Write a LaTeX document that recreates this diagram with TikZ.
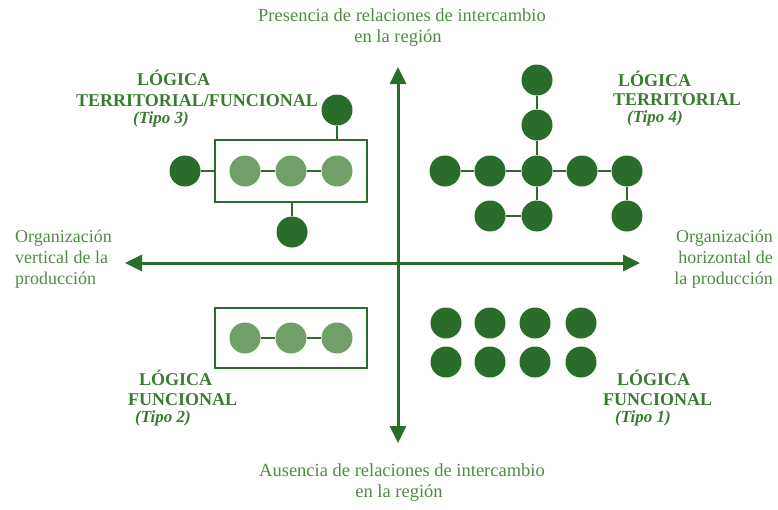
\documentclass[tikz,border=0pt]{standalone}
\usepackage{fontspec}
\setmainfont{Liberation Serif}
\usetikzlibrary{arrows.meta}
\definecolor{dkgreen}{RGB}{42,108,42}
\definecolor{ltgreen}{RGB}{112,160,104}
\definecolor{txtgreen}{RGB}{78,140,68}
\definecolor{ttlgreen}{RGB}{58,122,50}
\begin{document}
\begin{tikzpicture}[x=1pt,y=-1pt,
  dot/.style={circle,fill=dkgreen,inner sep=0pt,minimum size=31pt},
  ldot/.style={circle,fill=ltgreen,inner sep=0pt,minimum size=31pt},
  link/.style={draw=dkgreen,line width=2pt},
  frame/.style={draw=dkgreen,line width=1.5pt,inner sep=0pt,minimum width=152pt},
  axis/.style={draw=dkgreen,line width=3pt,{Triangle[width=16pt,length=17pt]}-{Triangle[width=16pt,length=17pt]}},
  lblw/.style={text=txtgreen,font=\fontsize{18}{21}\selectfont,inner sep=0pt,anchor=base west},
  lble/.style={text=txtgreen,font=\fontsize{18}{21}\selectfont,inner sep=0pt,anchor=base east},
  lblc/.style={text=txtgreen,font=\fontsize{18.5}{21}\selectfont,inner sep=0pt,anchor=base},
  ttl/.style={text=ttlgreen,font=\fontsize{18}{18}\selectfont\bfseries,inner sep=0pt,anchor=base west},
  tipo/.style={text=ttlgreen,font=\fontsize{17}{18}\selectfont\bfseries\itshape,inner sep=0pt,anchor=base west},
]
\useasboundingbox (0,0) rectangle (778,509);

% axes
\coordinate (ytop) at (398,67);
\coordinate (ybot) at (398,443);
\coordinate (xl) at (125,263);
\coordinate (xr) at (640,263);
\draw[axis] (ytop) -- (ybot);
\draw[axis] (xl) -- (xr);

% axis labels
\node[lblc] (pt1) at (402,21) {Presencia de relaciones de intercambio};
\node[lblc] (pt2) at (398,42) {en la región};
\node[lblc] (pb1) at (402,476) {Ausencia de relaciones de intercambio};
\node[lblc] (pb2) at (399,497) {en la región};
\node[lblw] (lv1) at (15,242) {Organización};
\node[lblw] (lv2) at (15,263) {vertical de la};
\node[lblw] (lv3) at (15,284) {producción};
\node[lble] (rh1) at (773,242) {Organización};
\node[lble] (rh2) at (773,263) {horizontal de};
\node[lble] (rh3) at (773,284) {la producción};

% Tipo 3
\node[ttl] (t3a) at (137,85) {LÓGICA};
\node[ttl] (t3b) at (76,106) {TERRITORIAL/FUNCIONAL};
\node[tipo] (t3c) at (133,123) {(Tipo 3)};
\node[frame,minimum height=62pt] (box3) at (291,171) {};
\node[ldot] (c31) at (245,171) {};
\node[ldot] (c32) at (291,171) {};
\node[ldot] (c33) at (337,171) {};
\node[dot] (c3t) at (337,110) {};
\node[dot] (c3l) at (185,171) {};
\node[dot] (c3b) at (292,232) {};
\draw[link] (c31) -- (c32);
\draw[link] (c32) -- (c33);
\draw[link] (c3t) -- (c3t |- box3.north);
\draw[link] (c3l) -- (box3);
\draw[link] (c3b) -- (c3b |- box3.south);

% Tipo 4
\node[ttl] (t4a) at (618,86) {LÓGICA};
\node[ttl] (t4b) at (613,105) {TERRITORIAL};
\node[tipo] (t4c) at (627,122) {(Tipo 4)};
\node[dot] (a1) at (537,80) {};
\node[dot] (a2) at (537,125) {};
\node[dot] (m1) at (445,171) {};
\node[dot] (m2) at (490,171) {};
\node[dot] (m3) at (537,171) {};
\node[dot] (m4) at (582,171) {};
\node[dot] (m5) at (627,171) {};
\node[dot] (b1) at (490,216) {};
\node[dot] (b2) at (537,216) {};
\node[dot] (b3) at (627,216) {};
\draw[link] (a1) -- (a2);
\draw[link] (a2) -- (m3);
\draw[link] (m1) -- (m2);
\draw[link] (m2) -- (m3);
\draw[link] (m3) -- (m4);
\draw[link] (m4) -- (m5);
\draw[link] (m3) -- (b2);
\draw[link] (b1) -- (b2);
\draw[link] (m5) -- (b3);

% Tipo 2
\node[frame,minimum height=60pt] (box2) at (291,338) {};
\node[ldot] (c21) at (245,338) {};
\node[ldot] (c22) at (291,338) {};
\node[ldot] (c23) at (337,338) {};
\draw[link] (c21) -- (c22);
\draw[link] (c22) -- (c23);
\node[ttl] (t2a) at (139,385) {LÓGICA};
\node[ttl] (t2b) at (128,405) {FUNCIONAL};
\node[tipo] (t2c) at (135,422) {(Tipo 2)};

% Tipo 1
\foreach \i/\x in {1/446,2/490,3/535,4/581}{
  \node[dot] (u\i) at (\x,323) {};
  \node[dot] (v\i) at (\x,362) {};
}
\node[ttl] (t1a) at (617,385) {LÓGICA};
\node[ttl] (t1b) at (603,405) {FUNCIONAL};
\node[tipo] (t1c) at (615,422) {(Tipo 1)};
\end{tikzpicture}
\end{document}
